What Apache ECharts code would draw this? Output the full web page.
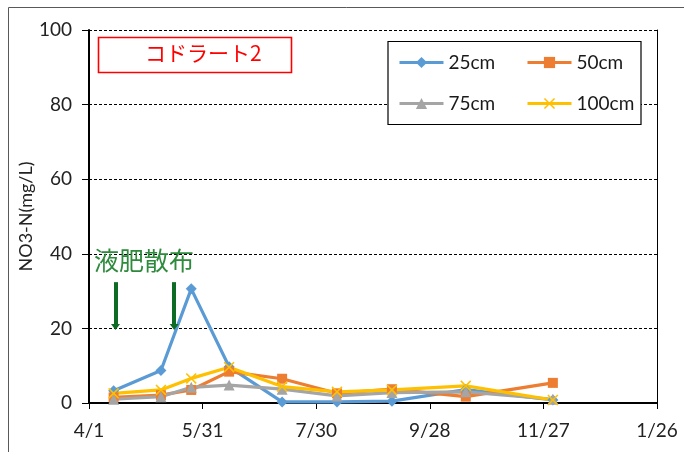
<!DOCTYPE html>
<html>
<head>
<meta charset="utf-8">
<script src="https://cdn.jsdelivr.net/npm/echarts@6/dist/echarts.min.js"></script>
<style>
  html, body { margin: 0; padding: 0; background: #fff; }
  #chart { width: 684px; height: 452px; }
</style>
</head>
<body>
<div id="chart"></div>
<script>
// Sampling dates (month/day) and NO3-N concentrations by depth, mg/L
const sampleDates = ['4/14', '5/9', '5/25', '6/14', '7/12', '8/10', '9/8', '10/17', '12/2'];
const depth25 = [3.3, 8.7, 30.6, 9.7, 0.3, 0.3, 0.5, 3.6, 0.8];
const depth50 = [1.5, 2.1, 3.5, 8.4, 6.5, 2.6, 3.7, 1.7, 5.4];
const depth75 = [1.0, 1.7, 4.2, 4.8, 3.7, 1.9, 2.8, 3.0, 1.0];
const depth100 = [2.6, 3.5, 6.6, 9.6, 4.4, 3.0, 3.5, 4.6, 0.8];
const xTickLabels = ['4/1', '5/31', '7/30', '9/28', '11/27', '1/26'];
const fertilizerDates = ['4/15', '5/16'];

const seasonStart = new Date(2019, 3, 1);
// days elapsed since 4/1 for an "M/D" string (Jan–Mar fall in the next year)
function dayOffset(md) {
  const [m, d] = md.split('/').map(Number);
  const y = m < 4 ? 2020 : 2019;
  return Math.round((new Date(y, m - 1, d) - seasonStart) / 86400000);
}
const xs = sampleDates.map(dayOffset);
const pairs = vals => vals.map((v, i) => [xs[i], v]);

const FONT = 'Lato, "Noto Sans", sans-serif';
const JP = '"Noto Sans CJK JP", sans-serif';
const crossPath = 'path://M0,1L1,0L5,4L9,0L10,1L6,5L10,9L9,10L5,6L1,10L0,9L4,5Z';

const chart = echarts.init(document.getElementById('chart'));

function lineSeries(name, vals, color, symbol, size) {
  return {
    name, type: 'line', data: pairs(vals),
    symbol, symbolSize: size,
    lineStyle: { color, width: 3.2 },
    itemStyle: { color },
    emphasis: { disabled: true },
    animation: false
  };
}

const series = [
  lineSeries('25cm', depth25, '#5B9BD5', 'diamond', 11),
  lineSeries('50cm', depth50, '#ED7D31', 'rect', 10),
  lineSeries('75cm', depth75, '#A5A5A5', 'triangle', 11),
  lineSeries('100cm', depth100, '#FFC000', crossPath, 11)
];

// fertilizer application arrows
series[0].markLine = {
  silent: true,
  animation: false,
  symbol: ['none', 'triangle'],
  symbolSize: [9, 6],
  symbolRotate: 180,
  label: { show: false },
  lineStyle: { color: '#0E6B26', width: 4, type: 'solid' },
  data: fertilizerDates.map(md => [
    { coord: [dayOffset(md), 32.4] },
    { coord: [dayOffset(md), 20.4] }
  ])
};

const legendText = { fontFamily: FONT, fontSize: 19, color: '#1a1a1a' };
const legendBase = {
  orient: 'vertical', top: 53, padding: 0,
  itemWidth: 44, itemHeight: 14, itemGap: 22, textStyle: legendText,
  lineStyle: { width: 3 }, selectedMode: false, z: 10
};

chart.setOption({
  animation: false,
  grid: { left: 89, right: 27, top: 30, bottom: 49 },
  xAxis: {
    type: 'value', min: 0, max: 300, interval: 60,
    axisLine: { lineStyle: { color: '#000', width: 2 } },
    axisTick: { show: true, length: 6, lineStyle: { color: '#000', width: 1 } },
    axisLabel: {
      margin: 18, fontFamily: FONT, fontSize: 19, color: '#222',
      formatter: v => xTickLabels[Math.round(v / 60)]
    },
    splitLine: { show: false }
  },
  yAxis: [{
    type: 'value', min: 0, max: 100, interval: 20,
    name: 'NO3-N(mg/L)', nameLocation: 'middle', nameGap: 54, nameMoveOverlap: false,
    nameTextStyle: { fontFamily: FONT, fontSize: 18, color: '#222' },
    axisLine: { show: true, lineStyle: { color: '#000', width: 2 } },
    axisTick: { show: true, length: 7, lineStyle: { color: '#000', width: 1 } },
    axisLabel: { margin: 17, fontFamily: FONT, fontSize: 19, color: '#222' },
    splitLine: { show: true, lineStyle: { color: '#000', width: 1, type: [3, 2] } }
  }, {
    type: 'value', min: 0, max: 100, position: 'right',
    axisLine: { show: true, lineStyle: { color: '#000', width: 1 } },
    axisTick: { show: false }, axisLabel: { show: false }, splitLine: { show: false }
  }],
  legend: [
    Object.assign({ data: ['25cm', '75cm'], left: 398 }, legendBase),
    Object.assign({ data: ['50cm', '100cm'], left: 526 }, legendBase)
  ],
  graphic: [
    { type: 'rect', silent: true, z: -1,
      shape: { x: 8.5, y: 7.5, width: 700, height: 460 },
      style: { fill: 'none', stroke: '#595959', lineWidth: 1 } },
    { type: 'rect', silent: true, z: 3,
      shape: { x: 388, y: 41.5, width: 253, height: 83 },
      style: { fill: '#fff', stroke: '#000', lineWidth: 1.2 } },
    { type: 'rect', silent: true, z: 3,
      shape: { x: 98.5, y: 37.5, width: 193, height: 35 },
      style: { fill: '#fff', stroke: '#FF0000', lineWidth: 1.6 } },
    { type: 'text', silent: true, z: 6, left: 145, top: 43,
      style: { text: 'コドラート2', fontFamily: JP, fontSize: 21, fill: '#FF0000' } },
    { type: 'text', silent: true, z: 6, left: 94, top: 248,
      style: { text: '液肥散布', fontFamily: JP, fontSize: 25, fill: '#2E8A3C' } }
  ],
  series
});
</script>
</body>
</html>
